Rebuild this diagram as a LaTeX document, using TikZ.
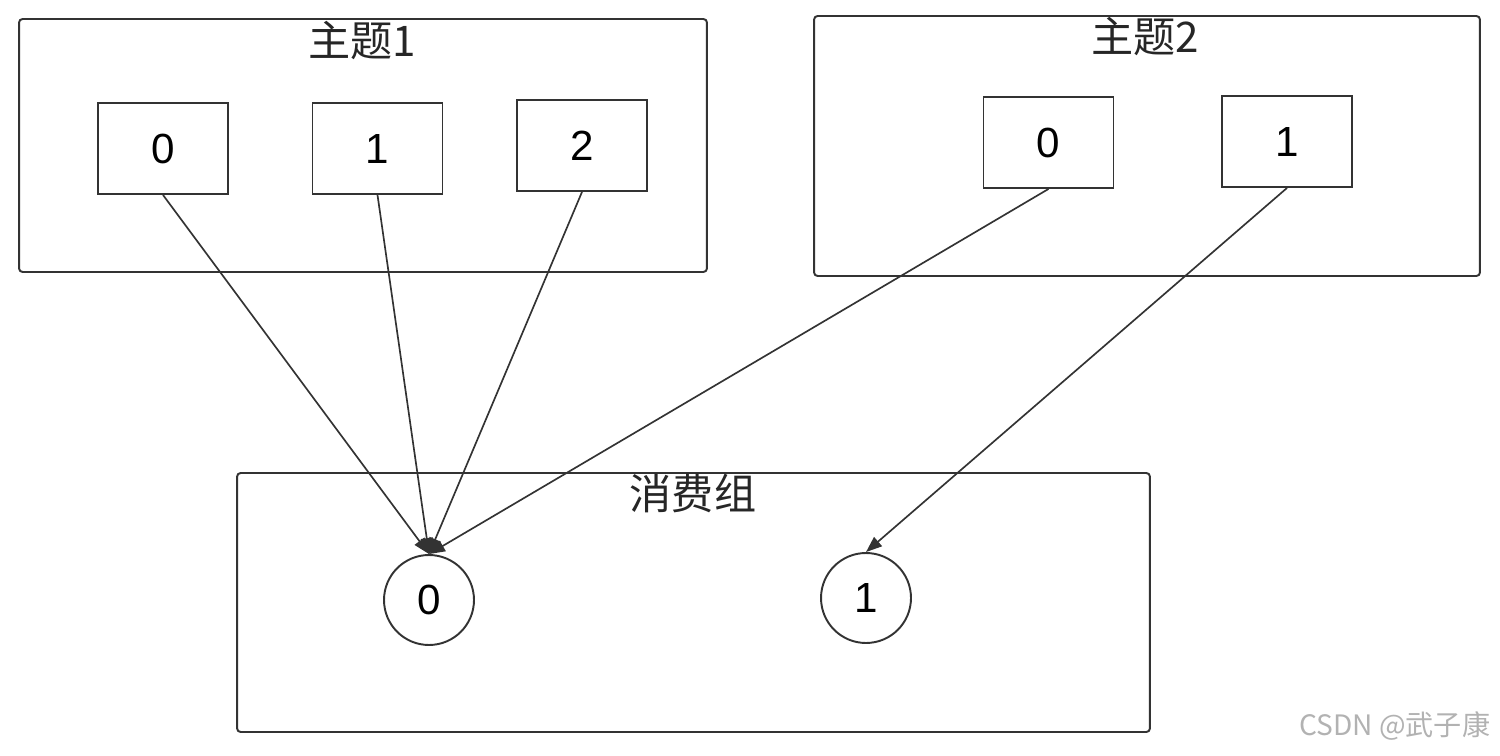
\documentclass[tikz,border=0pt]{standalone}
\usepackage{fontspec}
\setmainfont{Liberation Sans}
\newfontfamily\cjk{Noto Sans CJK SC}
\usetikzlibrary{arrows.meta}

\begin{document}
\begin{tikzpicture}[x=0.02cm, y=-0.02cm, line width=1.1pt, draw=black!80,
group/.style={draw=black!80, rounded corners=2pt, inner sep=0pt},
part/.style={draw=black!80, minimum width=2.6cm, minimum height=1.82cm, inner sep=0pt, font=\fontsize{24}{26}\selectfont},
member/.style={draw=black!80, circle, minimum size=1.8cm, inner sep=0pt, font=\fontsize{24}{26}\selectfont},
title/.style={font=\cjk\fontsize{24}{26}\selectfont, text=black!85},
link/.style={draw=black!80, line width=0.95pt, -{Triangle[length=0.32cm, width=0.24cm]}}]
\useasboundingbox (0,0) rectangle (1500,756);
\node [group, minimum width=13.76cm, minimum height=5.06cm] (topicA) at (363,145.5){};
\node [group, minimum width=13.32cm, minimum height=5.2cm] (topicB) at (1147,146){};
\node [group, minimum width=18.26cm, minimum height=5.18cm] (cgroup) at (693.5,602.5){};
\node [title] (topicAtitle) at (362,41){主题1};
\node [title] (topicBtitle) at (1145,37){主题2};
\node [title] (cgrouptitle) at (693,493){消费组};
% partitions
\node [part] (a0) at (163,148.5){0};
\node [part] (a1) at (377.5,148.5){1};
\node [part] (a2) at (582,145.5){2};
\node [part] (b0) at (1048.5,142.5){0};
\node [part] (b1) at (1287,141.5){1};
% consumers
\node [member] (c0) at (429,600){0};
\node [member] (c1) at (866,598){1};
\draw [link] (a0.south) -- (c0.north);
\draw [link] (a1.south) -- (c0.north);
\draw [link] (a2.south) -- (c0.north);
\draw [link] (b0.south) -- (c0.north);
\draw [link] (b1.south) -- (c1.north);
\node [font=\cjk\fontsize{16}{18}\selectfont, text=black!30, anchor=east] (mark) at (1497,726){CSDN @武子康};
\end{tikzpicture}
\end{document}
